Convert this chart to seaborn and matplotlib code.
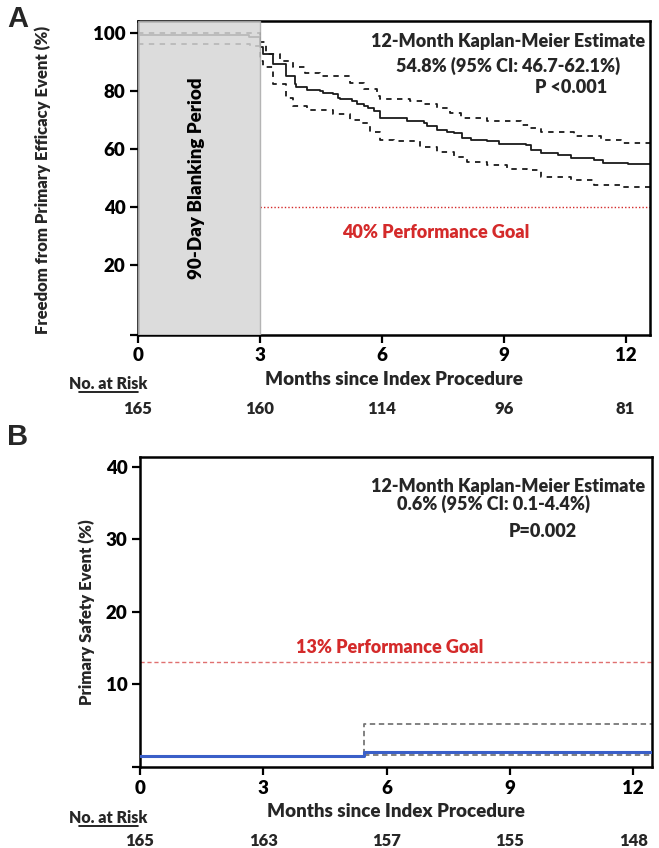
import numpy as np
import pandas as pd
import matplotlib
matplotlib.use("Agg")
import matplotlib.pyplot as plt
import seaborn as sns
from matplotlib.transforms import blended_transform_factory
from matplotlib.lines import Line2D

# ---------------- data ----------------
# Panel A: freedom from primary efficacy event (KM, steps-post)
a_km_t = [0, 2.74, 3.0, 3.08, 3.32, 3.65, 3.86, 3.90, 4.15, 4.48, 4.56, 4.81, 4.93, 4.97,
          5.26, 5.38, 5.55, 5.67, 5.80, 5.96, 6.62, 7.03, 7.11, 7.36, 7.61, 7.77, 7.98,
          8.19, 8.60, 8.89, 9.54, 9.67, 9.91, 10.33, 10.66, 11.23, 11.44, 12.06, 12.6]
a_km_v = [99.4, 98.8, 95.2, 92.8, 89.3, 85.3, 82.3, 81.4, 80.2, 80.0, 79.4, 78.9, 77.7, 77.1,
          76.5, 75.4, 74.8, 74.0, 73.0, 70.7, 69.5, 69.0, 67.8, 66.6, 66.0, 65.5, 63.7,
          63.1, 62.6, 61.6, 61.4, 59.7, 58.5, 57.9, 56.7, 56.1, 55.0, 54.8, 54.8]
a_up_t = [0, 3.0, 3.16, 3.49, 3.82, 4.11, 4.48, 5.22, 5.55, 5.88, 5.96, 6.70, 7.03, 7.36,
          7.69, 7.94, 8.60, 9.42, 9.63, 9.91, 10.74, 11.40, 11.89, 12.6]
a_up_v = [100.0, 97.0, 92.8, 90.5, 88.2, 86.4, 85.3, 82.9, 80.6, 78.3, 77.1, 76.5, 75.4, 74.2,
          72.4, 70.7, 69.5, 68.4, 67.2, 66.0, 64.3, 63.1, 62.1, 62.1]
a_lo_t = [0, 2.76, 3.0, 3.08, 3.32, 3.65, 3.82, 4.15, 4.81, 5.22, 5.47, 5.72, 5.96, 6.29,
          6.95, 7.36, 7.77, 8.10, 8.60, 9.09, 9.58, 9.91, 10.66, 11.23, 11.89, 12.6]
a_lo_v = [96.2, 95.5, 90.5, 88.2, 82.3, 77.7, 74.8, 73.6, 71.9, 70.1, 69.0, 66.0, 63.1, 62.6,
          60.8, 59.0, 57.3, 55.6, 54.4, 53.2, 52.6, 50.3, 49.1, 47.4, 46.7, 46.7]
a_goal = 40
a_risk = [165, 160, 114, 96, 81]

# Panel B: primary safety event (KM, steps-post)
b_km_t = [0, 5.45, 12.46]
b_km_v = [0.0, 0.6, 0.6]
b_up_t = [0, 5.45, 12.46]
b_up_v = [0.0, 4.4, 4.4]
b_lo_t = [5.45, 12.46]
b_lo_v = [0.1, 0.1]
b_goal = 13
b_risk = [165, 163, 157, 155, 148]

xticks = [0, 3, 6, 9, 12]

# ---------------- style ----------------
W = "heavy"
sns.set_theme(style="ticks")
plt.rcParams["font.family"] = ["Lato", "DejaVu Sans"]
plt.rcParams["font.weight"] = W
plt.rcParams["axes.labelweight"] = W

fig = plt.figure(figsize=(6.59, 8.48), dpi=100)
axA = fig.add_axes([0.2094, 0.6050, 0.7769, 0.3702])
axB = fig.add_axes([0.2124, 0.0955, 0.7770, 0.3656])

RED = "#d42a2a"

def style_axes(ax):
    for s in ax.spines.values():
        s.set_linewidth(1.8)
        s.set_color("black")
    ax.tick_params(axis="both", direction="out", length=6, width=1.6,
                   labelsize=13.5, colors="black", pad=3)
    for lab in ax.get_xticklabels() + ax.get_yticklabels():
        lab.set_fontweight(W)

def step(ax, t, v, **kw):
    df = pd.DataFrame({"t": t, "v": v})
    sns.lineplot(data=df, x="t", y="v", ax=ax, estimator=None, sort=False,
                 drawstyle="steps-post", legend=False, **kw)

# ---------------- Panel A ----------------
step(axA, a_km_t, a_km_v, color="#1a1a1a", lw=1.3, zorder=2)
step(axA, a_up_t, a_up_v, color="#1a1a1a", lw=1.3, linestyle=(0, (3, 3)), zorder=2)
step(axA, a_lo_t, a_lo_v, color="#1a1a1a", lw=1.3, linestyle=(0, (3, 3)), zorder=2)
axA.axvspan(0, 3, facecolor="#d6d6d6", edgecolor="#aaaaaa", lw=1.0, alpha=0.85, zorder=3)
axA.plot([3, 12.6], [a_goal, a_goal], color=RED, lw=1.0, linestyle=(0, (1, 1.5)), zorder=2)

axA.set_xlim(0, 12.6)
axA.set_ylim(-4.3, 104.2)
axA.set_xticks(xticks)
axA.set_xticklabels([str(x) for x in xticks])
axA.set_yticks([-4.3, 20, 40, 60, 80, 100])
axA.set_yticklabels(["", "20", "40", "60", "80", "100"])
axA.set_xlabel("Months since Index Procedure", fontsize=13.5, fontweight=W, labelpad=5)
axA.set_ylabel("Freedom from Primary Efficacy Event (%)", fontsize=12, fontweight=W)
axA.yaxis.set_label_coords(-0.170, 0.495)
style_axes(axA)

axA.text(0.115, 0.50, "90-Day Blanking Period", transform=axA.transAxes, rotation=90,
         ha="center", va="center", fontsize=13.5, fontweight=W, color="black", zorder=4)
axA.text(0.723, 0.936, "12-Month Kaplan-Meier Estimate", transform=axA.transAxes,
         ha="center", va="center", fontsize=13, fontweight=W)
axA.text(0.723, 0.857, "54.8% (95% CI: 46.7-62.1%)", transform=axA.transAxes,
         ha="center", va="center", fontsize=13, fontweight=W)
axA.text(0.846, 0.787, "P <0.001", transform=axA.transAxes,
         ha="center", va="center", fontsize=13, fontweight=W)
axA.text(0.582, 0.325, "40% Performance Goal", transform=axA.transAxes,
         ha="center", va="center", fontsize=13, fontweight=W, color=RED)

# ---------------- Panel B ----------------
step(axB, b_up_t, b_up_v, color="#777777", lw=1.3, linestyle=(0, (3, 2)), zorder=2)
step(axB, b_lo_t, b_lo_v, color="#777777", lw=1.3, linestyle=(0, (3, 2)), zorder=2)
step(axB, b_km_t, b_km_v, color="#3a5fc8", lw=2.2, zorder=3)
axB.plot([0, 12.46], [b_goal, b_goal], color="#e07070", lw=1.0, linestyle=(0, (3, 2)), zorder=2)

axB.set_xlim(0, 12.46)
axB.set_ylim(-1.5, 41.4)
axB.set_xticks(xticks)
axB.set_xticklabels([str(x) for x in xticks])
axB.set_yticks([-1.5, 10, 20, 30, 40])
axB.set_yticklabels(["", "10", "20", "30", "40"])
axB.set_xlabel("Months since Index Procedure", fontsize=13.5, fontweight=W, labelpad=5)
axB.set_ylabel("Primary Safety Event (%)", fontsize=12, fontweight=W)
axB.yaxis.set_label_coords(-0.088, 0.5)
style_axes(axB)

axB.text(0.719, 0.906, "12-Month Kaplan-Meier Estimate", transform=axB.transAxes,
         ha="center", va="center", fontsize=13, fontweight=W)
axB.text(0.691, 0.848, "0.6% (95% CI: 0.1-4.4%)", transform=axB.transAxes,
         ha="center", va="center", fontsize=13, fontweight=W)
axB.text(0.787, 0.761, "P=0.002", transform=axB.transAxes,
         ha="center", va="center", fontsize=13, fontweight=W)
axB.text(0.488, 0.387, "13% Performance Goal", transform=axB.transAxes,
         ha="center", va="center", fontsize=13, fontweight=W, color=RED)

# ---------------- panel letters ----------------
fig.text(18 / 659, 1 - 19 / 848, "A", fontsize=21, fontweight="bold", ha="center", va="center",
         family=["Liberation Sans", "DejaVu Sans"])
fig.text(18 / 659, 1 - 437 / 848, "B", fontsize=21, fontweight="bold", ha="center", va="center",
         family=["Liberation Sans", "DejaVu Sans"])

# ---------------- numbers at risk ----------------
def risk_row(ax, values, y_head, y_nums):
    fig.text(108 / 659, 1 - y_head / 848, "No. at Risk", fontsize=11.5, fontweight=W,
             ha="center", va="center")
    fig.add_artist(Line2D([79 / 659, 138 / 659], [1 - (y_head + 8) / 848] * 2,
                          color="black", lw=1.2, transform=fig.transFigure))
    tr = blended_transform_factory(ax.transData, fig.transFigure)
    for x, n in zip(xticks, values):
        ax.text(x, 1 - y_nums / 848, str(n), transform=tr, ha="center", va="center",
                fontsize=12, fontweight=W, clip_on=False)

risk_row(axA, a_risk, 384, 409)
risk_row(axB, b_risk, 818, 841)

fig.savefig("out.png", dpi=100)
